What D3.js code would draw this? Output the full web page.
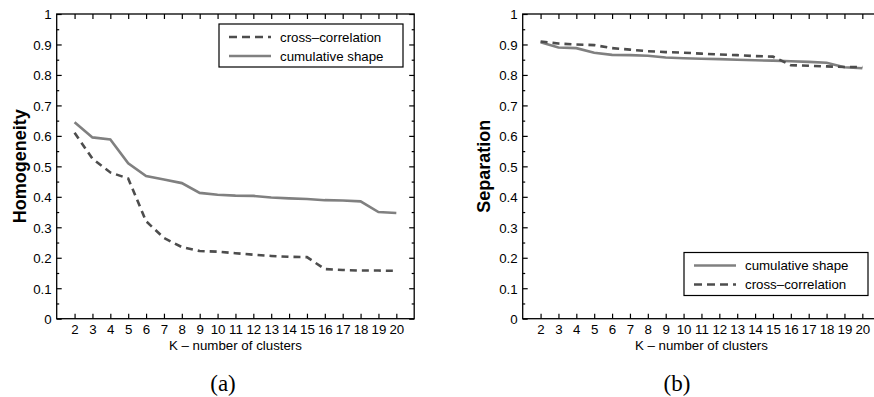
<!DOCTYPE html>
<html>
<head>
  <meta charset="utf-8">
  <title>Homogeneity and Separation vs K</title>
  <script src="https://d3js.org/d3.v7.min.js"></script>
  <style>
    body { margin: 0; background: #fff; }
    svg text { font-family: "Liberation Sans", Arial, sans-serif; }
  </style>
</head>
<body>
<div id="chart"></div>
<script>
// number of clusters
const kValues = [2, 3, 4, 5, 6, 7, 8, 9, 10, 11, 12, 13, 14, 15, 16, 17, 18, 19, 20];

// (a) homogeneity
const homogCross = [0.61, 0.525, 0.48, 0.46, 0.32, 0.265, 0.235, 0.222, 0.22, 0.215, 0.21, 0.206, 0.203, 0.202, 0.163, 0.16, 0.158, 0.158, 0.157];
const homogCumul = [0.645, 0.595, 0.588, 0.51, 0.468, 0.457, 0.445, 0.413, 0.407, 0.404, 0.403, 0.398, 0.395, 0.393, 0.389, 0.388, 0.385, 0.35, 0.347];

// (b) separation
const sepCumul = [0.907, 0.89, 0.888, 0.873, 0.866, 0.865, 0.863, 0.857, 0.855, 0.853, 0.852, 0.85, 0.848, 0.847, 0.845, 0.843, 0.84, 0.825, 0.822];
const sepCross = [0.91, 0.903, 0.9, 0.898, 0.888, 0.883, 0.878, 0.875, 0.873, 0.87, 0.867, 0.865, 0.862, 0.86, 0.832, 0.83, 0.828, 0.826, 0.826];

const yTicks = [0, 0.1, 0.2, 0.3, 0.4, 0.5, 0.6, 0.7, 0.8, 0.9, 1];
const yMinor = [0.05, 0.15, 0.25, 0.35, 0.45, 0.55, 0.65, 0.75, 0.85, 0.95];

const width = 874, height = 397;
const svg = d3.select("#chart").append("svg")
  .attr("width", width)
  .attr("height", height);

const solidStyle = { color: "#808080", dash: null };
const dashStyle = { color: "#4d4d4d", dash: "7,5" };

function drawPanel(opts) {
  const x = d3.scaleLinear().domain([1, 21]).range([opts.left, opts.left + 357.5]);
  const y = d3.scaleLinear().domain([0, 1]).range([318.7, 14]);
  const g = svg.append("g");

  // box
  g.append("rect")
    .attr("x", x(1)).attr("y", y(1))
    .attr("width", x(21) - x(1)).attr("height", y(0) - y(1))
    .attr("fill", "none").attr("stroke", "#000").attr("stroke-width", 1.3);

  // axes with inward ticks
  const bottom = g.append("g").attr("transform", `translate(0,${y(0)})`)
    .call(d3.axisBottom(x).tickValues(kValues).tickSize(-5).tickPadding(6).tickFormat(d3.format("d")));
  const top = g.append("g").attr("transform", `translate(0,${y(1)})`)
    .call(d3.axisTop(x).tickValues(kValues).tickSize(-5).tickFormat(""));
  const left = g.append("g").attr("transform", `translate(${x(1)},0)`)
    .call(d3.axisLeft(y).tickValues(yTicks).tickSize(-5).tickPadding(5).tickFormat(d3.format("~g")));
  const leftMinor = g.append("g").attr("transform", `translate(${x(1)},0)`)
    .call(d3.axisLeft(y).tickValues(yMinor).tickSize(-2.5).tickFormat(""));
  const right = g.append("g").attr("transform", `translate(${x(21)},0)`)
    .call(d3.axisRight(y).tickValues(yTicks).tickSize(-5).tickFormat(""));
  const rightMinor = g.append("g").attr("transform", `translate(${x(21)},0)`)
    .call(d3.axisRight(y).tickValues(yMinor).tickSize(-2.5).tickFormat(""));
  [bottom, top, left, leftMinor, right, rightMinor].forEach(a => {
    a.select(".domain").remove();
    a.selectAll("line").attr("stroke", "#000").attr("stroke-width", 1.2);
    a.selectAll("text").attr("font-size", 13.3).attr("fill", "#000")
      .attr("font-family", "'Liberation Sans', Arial, sans-serif");
  });
  left.selectAll("text").attr("dy", "0.36em");

  // lines
  const line = d3.line().x((d, i) => x(kValues[i])).y(d => y(d));
  opts.series.forEach(s => {
    g.append("path")
      .datum(s.values)
      .attr("d", line)
      .attr("fill", "none")
      .attr("stroke", s.style.color)
      .attr("stroke-width", 2.6)
      .attr("stroke-dasharray", s.style.dash);
  });

  // axis titles
  g.append("text")
    .attr("x", (x(1) + x(21)) / 2).attr("y", 350)
    .attr("text-anchor", "middle").attr("font-size", 13.3).attr("fill", "#000")
    .text("K \u2013 number of clusters");
  g.append("text")
    .attr("transform", `translate(${opts.ylabelX},${(y(0) + y(1)) / 2}) rotate(-90)`)
    .attr("text-anchor", "middle").attr("dominant-baseline", "central")
    .attr("font-size", 18).attr("font-weight", "bold").attr("fill", "#000")
    .text(opts.ylabel);

  // legend
  const lg = g.append("g").attr("transform", `translate(${opts.legend.x},${opts.legend.y})`);
  lg.append("rect").attr("width", 184).attr("height", 43)
    .attr("fill", "#fff").attr("stroke", "#000").attr("stroke-width", 1.2);
  opts.legend.items.forEach((it, i) => {
    const ly = 13 + i * 19;
    lg.append("line")
      .attr("x1", 10).attr("x2", 52).attr("y1", ly).attr("y2", ly)
      .attr("stroke", it.style.color).attr("stroke-width", 2.6)
      .attr("stroke-dasharray", it.style.dash ? "8,5" : null);
    lg.append("text")
      .attr("x", 61).attr("y", ly).attr("dominant-baseline", "central")
      .attr("font-size", 13.3).attr("fill", "#000")
      .text(it.label);
  });

  // caption
  svg.append("text")
    .attr("x", opts.captionX).attr("y", 391)
    .attr("text-anchor", "middle")
    .style("font-family", "'Liberation Serif', 'DejaVu Serif', serif")
    .attr("font-size", 23).attr("fill", "#000")
    .text(opts.caption);
}

drawPanel({
  left: 56.7,
  ylabel: "Homogeneity",
  ylabelX: 20,
  caption: "(a)",
  captionX: 223,
  series: [
    { values: homogCumul, style: solidStyle },
    { values: homogCross, style: dashStyle }
  ],
  legend: {
    x: 219, y: 24,
    items: [
      { label: "cross\u2013correlation", style: dashStyle },
      { label: "cumulative shape", style: solidStyle }
    ]
  }
});

drawPanel({
  left: 522.7,
  ylabel: "Separation",
  ylabelX: 484,
  caption: "(b)",
  captionX: 677,
  series: [
    { values: sepCumul, style: solidStyle },
    { values: sepCross, style: dashStyle }
  ],
  legend: {
    x: 684, y: 252.5,
    items: [
      { label: "cumulative shape", style: solidStyle },
      { label: "cross\u2013correlation", style: dashStyle }
    ]
  }
});
</script>
</body>
</html>
